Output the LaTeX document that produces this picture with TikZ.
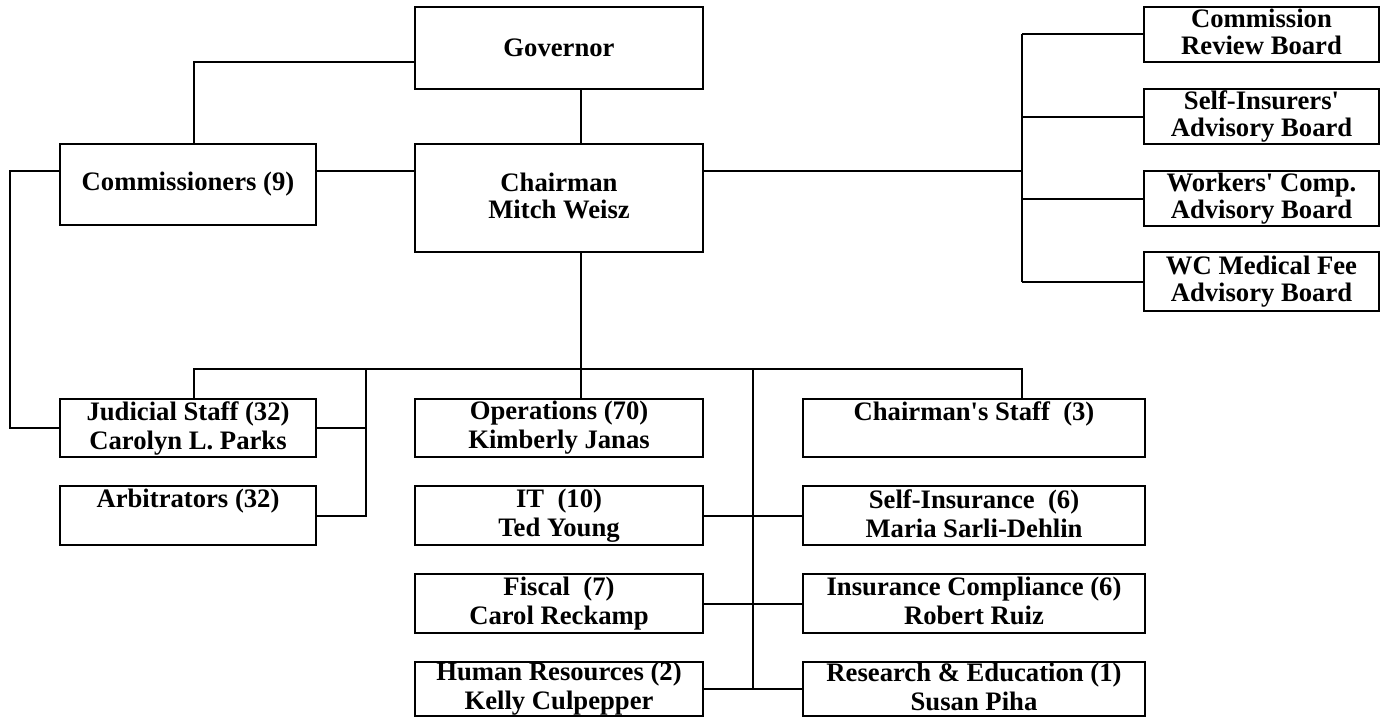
\documentclass[tikz,border=0pt]{standalone}
\usepackage{fontspec}
\setmainfont{Liberation Serif}

\tikzset{
  unit/.style={draw, line width=1.5pt, align=center, inner sep=0pt,
    font=\bfseries\fontsize{20}{20.25}\selectfont},
  headbox/.style={unit, minimum width=216pt},
  sidebox/.style={unit, minimum width=192pt},
  boardbox/.style={unit, minimum width=176.25pt, minimum height=41.25pt},
  deptbox/.style={unit, minimum height=44pt,
    font=\bfseries\fontsize{20}{21.75}\selectfont},
  link/.style={line width=1.5pt}
}
\newcommand{\q}{\textquotesingle}
\newcommand{\vs}{\rule[-3.5pt]{0pt}{15pt}}

\begin{document}
\begin{tikzpicture}[x=0.75pt,y=0.75pt,yscale=-1,xscale=1]
        \useasboundingbox (0,0) rectangle (1381,717);

        % Top row
        \node (gov) [headbox, minimum height=61.5pt] at (559,48) {Governor};
        \node (comm) [sidebox, minimum height=60.75pt] at (188,184.5) {Commissioners (9)};
        \node (chair) [headbox, minimum height=81pt] at (559,198) {Chairman\vs\\Mitch Weisz\vs};

        % Boards
        \node (crb) [boardbox] at (1261.5,34.5) {Commission\vs\\Review Board\vs};
        \node (sib) [boardbox] at (1261.5,116.5) {Self-Insurers\q\vs\\Advisory Board\vs};
        \node (wcb) [boardbox] at (1261.5,198.5) {Workers\q{} Comp.\vs\\Advisory Board\vs};
        \node (wcm) [boardbox, minimum height=44.25pt] at (1261.5,281.5) {WC Medical Fee\vs\\Advisory Board\vs};

        % Units, left column
        \node (jud) [deptbox, minimum width=192pt] at (188,428) {Judicial Staff (32)\vs\\Carolyn L. Parks\vs};
        \node (arb) [deptbox, minimum width=192pt] at (188,515.5) {Arbitrators (32)\vs\\\vs};

        % Units, middle column
        \node (ops) [deptbox, minimum width=216pt] at (559,428) {Operations (70)\vs\\Kimberly Janas\vs};
        \node (it) [deptbox, minimum width=216pt] at (559,515.5) {IT~ (10)\vs\\Ted Young\vs};
        \node (fis) [deptbox, minimum width=216pt] at (559,603.5) {Fiscal~ (7)\vs\\Carol Reckamp\vs};
        \node (hr) [deptbox, minimum width=216pt, minimum height=40.5pt] at (559,689) {Human Resources (2)\vs\\Kelly Culpepper\vs};

        % Units, right column
        \node (chst) [deptbox, minimum width=256.5pt] at (974,428) {Chairman\q s Staff~ (3)\vs\\\vs};
        \node (sins) [deptbox, minimum width=256.5pt] at (974,515.5) {Self-Insurance~ (6)\vs\\Maria Sarli-Dehlin\vs};
        \node (icomp) [deptbox, minimum width=256.5pt] at (974,603.5) {Insurance Compliance (6)\vs\\Robert Ruiz\vs};
        \node (rne) [deptbox, minimum width=256.5pt, minimum height=40.5pt] at (974,689) {Research \& Education (1)\vs\\Susan Piha\vs};

        % Line positions
        \coordinate (govrow) at (194,62);
        \coordinate (farL) at (10,171);
        \coordinate (boardx) at (1022,171);
        \coordinate (spine) at (581,369);
        \coordinate (busL) at (194,369);
        \coordinate (busR) at (1022,369);
        \coordinate (arbx) at (366,369);
        \coordinate (deptx) at (753,369);

        % Connectors
        \draw [link] (gov.west |- govrow) -- (govrow) -- (comm.north -| govrow);
        \draw [link] (gov.south -| spine) -- (chair.north -| spine);
        \draw [link] (comm.east |- farL) -- (chair.west |- farL);
        \draw [link] (comm.west |- farL) -- (farL) |- (jud.west);
        \draw [link] (chair.east |- boardx) -- (boardx);
        \draw [link] (crb.west -| boardx) -- (wcm.west -| boardx);
        \foreach \b in {crb,sib,wcb,wcm}
          \draw [link] (\b.west) -- (\b.west -| boardx);
        \draw [link] (chair.south -| spine) -- (ops.north -| spine);
        \draw [link] (jud.north -| busL) -- (busL) -- (busR) -- (chst.north -| busR);
        \draw [link] (arbx) |- (arb.east);
        \draw [link] (jud.east) -- (jud.east -| arbx);
        \draw [link] (deptx) -- (rne.west -| deptx);
        \draw [link] (it.east) -- (sins.west);
        \draw [link] (fis.east) -- (icomp.west);
        \draw [link] (hr.east) -- (rne.west);
\end{tikzpicture}
\end{document}
